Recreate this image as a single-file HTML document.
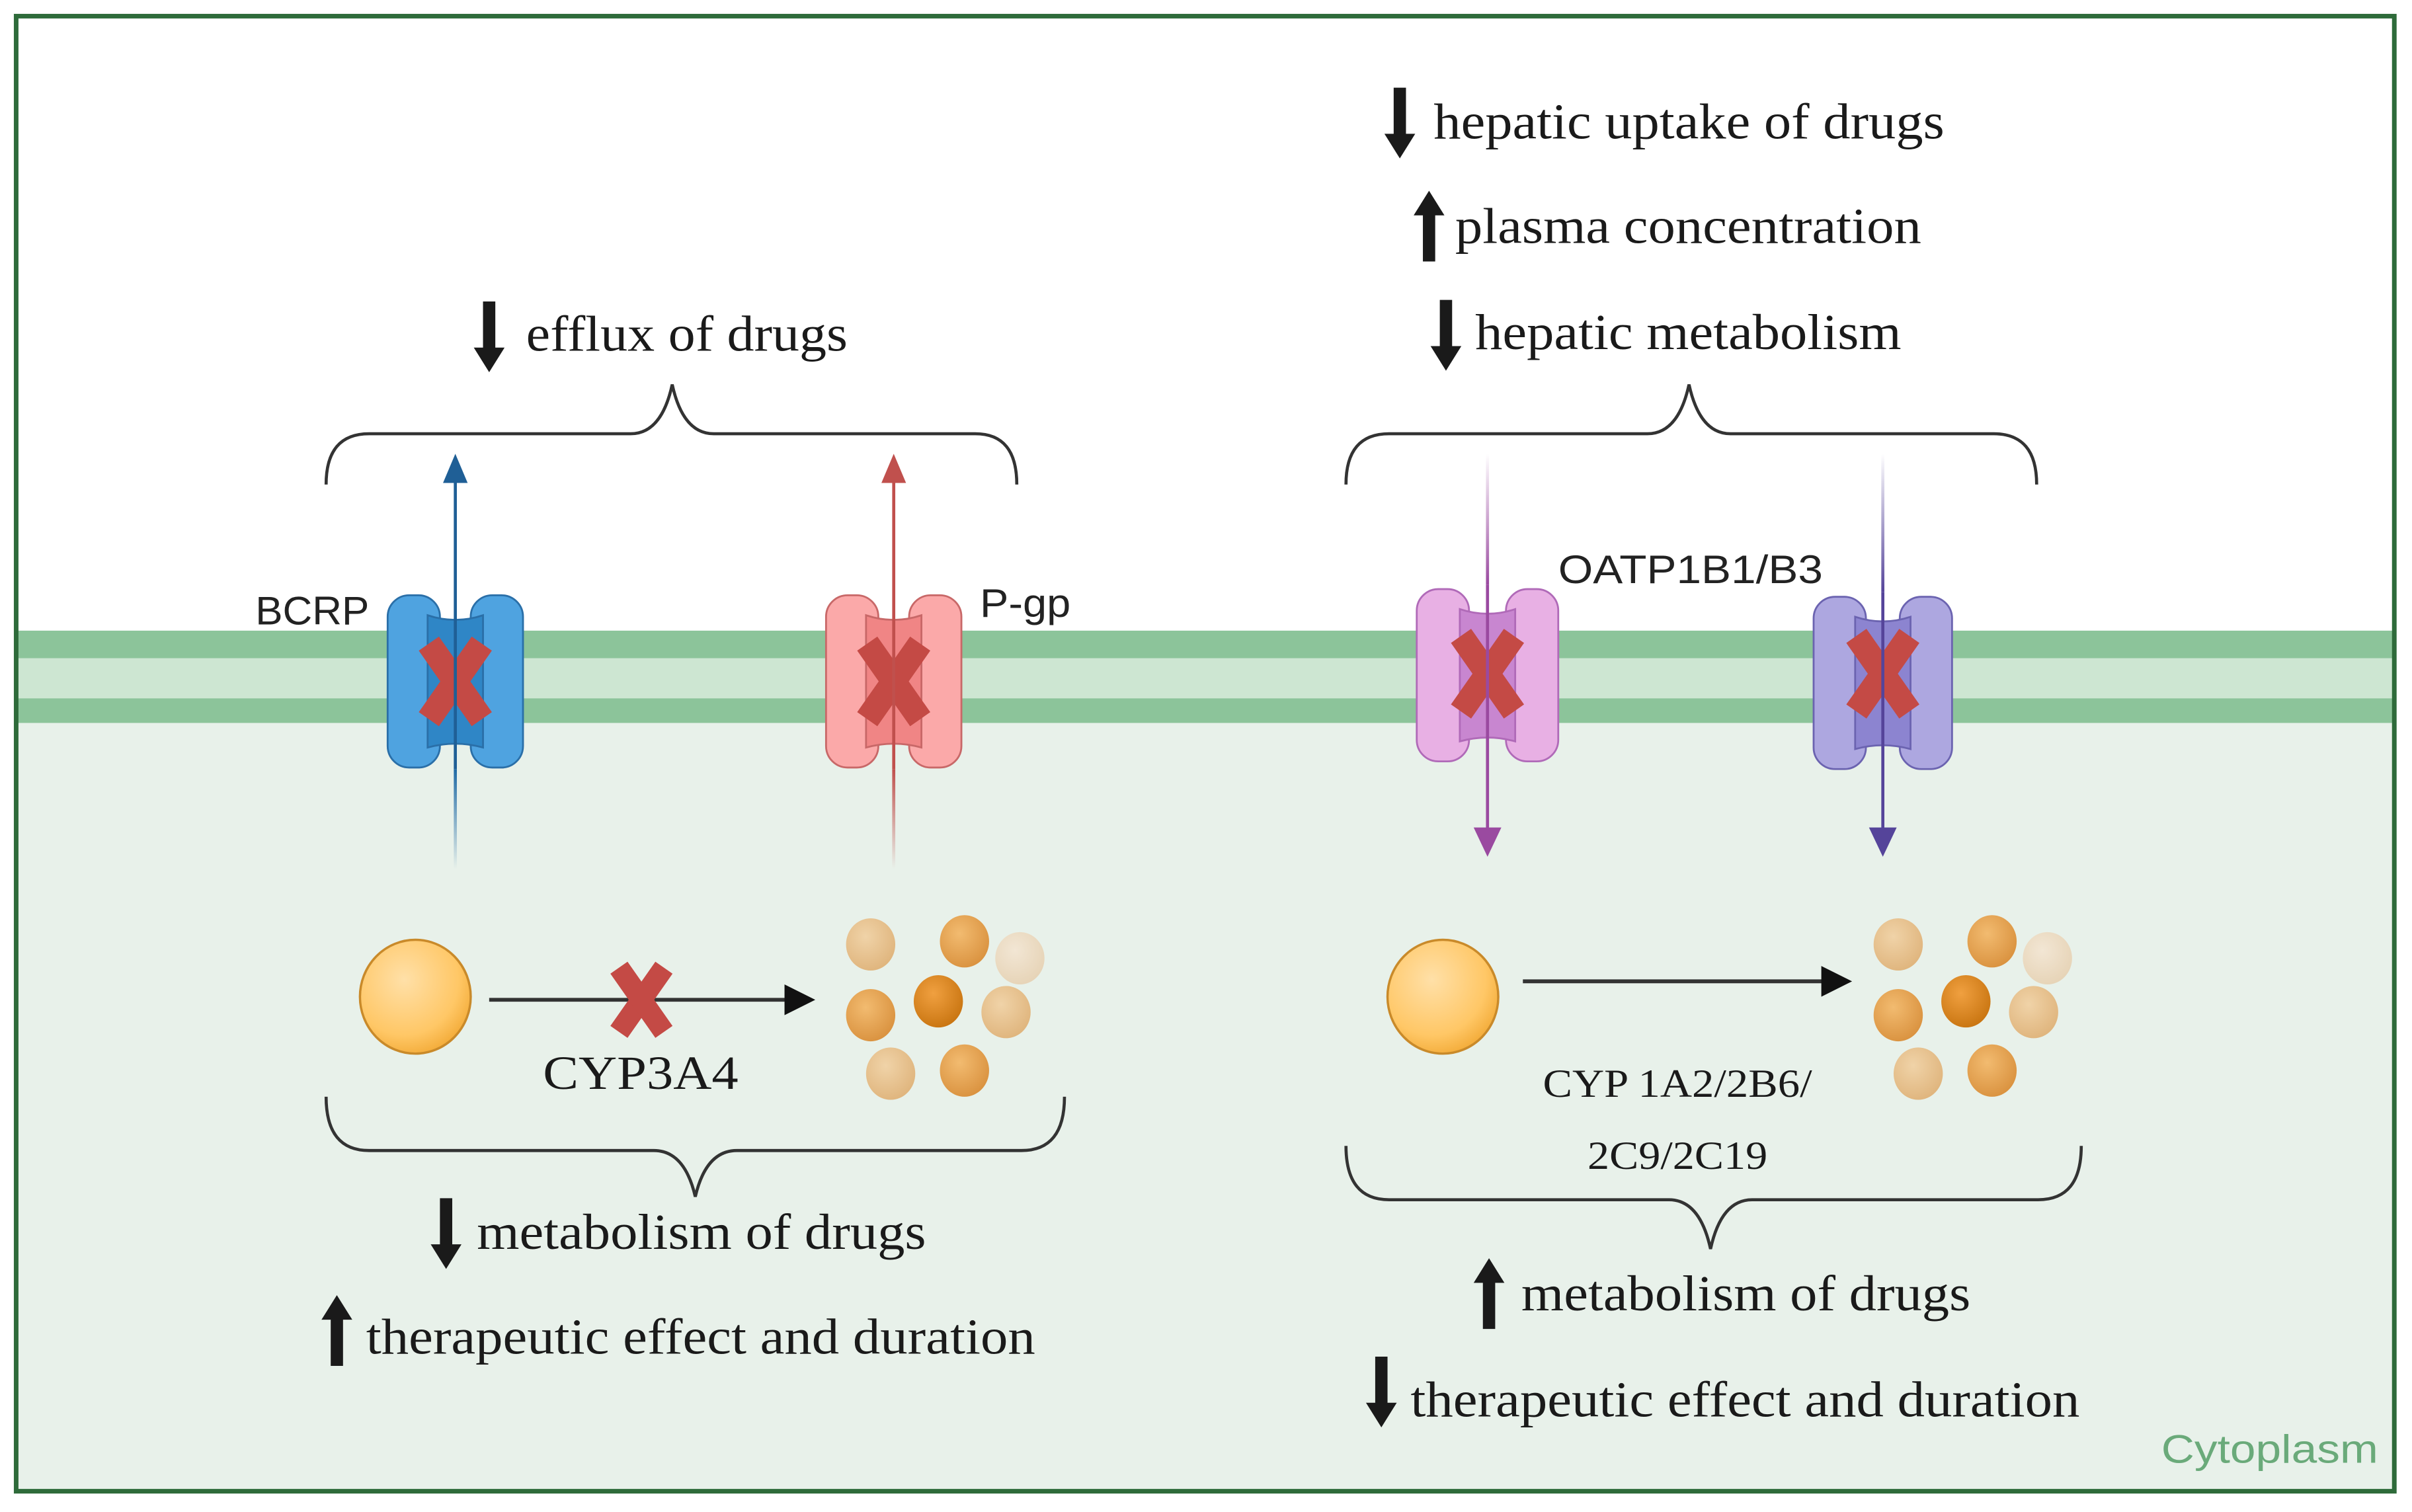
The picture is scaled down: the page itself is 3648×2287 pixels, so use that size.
<!DOCTYPE html>
<html><head><meta charset="utf-8"><style>
html,body{margin:0;padding:0;background:#fff}
svg{display:block}
.s{font-family:"Liberation Serif",serif;fill:#1a1a1a}
.a{font-family:"Liberation Sans",sans-serif;fill:#222}
</style></head><body>
<svg width="3648" height="2287" viewBox="0 0 1568 983" xmlns="http://www.w3.org/2000/svg">
<defs>
<radialGradient id="big" cx="0.4" cy="0.35" r="0.7"><stop offset="0" stop-color="#ffe0a8"/><stop offset="0.7" stop-color="#ffc766"/><stop offset="1" stop-color="#f2a935"/></radialGradient>
<radialGradient id="b1" cx="0.4" cy="0.35" r="0.7"><stop offset="0" stop-color="#f0d3a8"/><stop offset="1" stop-color="#dfb47c"/></radialGradient>
<radialGradient id="b2" cx="0.4" cy="0.35" r="0.7"><stop offset="0" stop-color="#f2bb70"/><stop offset="1" stop-color="#d9913e"/></radialGradient>
<radialGradient id="b3" cx="0.4" cy="0.35" r="0.7"><stop offset="0" stop-color="#f0a040"/><stop offset="1" stop-color="#c87410"/></radialGradient>
<radialGradient id="b4" cx="0.4" cy="0.35" r="0.7"><stop offset="0" stop-color="#f2e6d4"/><stop offset="1" stop-color="#e6d3b6"/></radialGradient>
<linearGradient id="fadeB" x1="0" y1="0" x2="0" y2="1"><stop offset="0" stop-color="#1f6aa5"/><stop offset="1" stop-color="#1f6aa5" stop-opacity="0"/></linearGradient>
<linearGradient id="fadeR" x1="0" y1="0" x2="0" y2="1"><stop offset="0" stop-color="#c0504d"/><stop offset="1" stop-color="#c0504d" stop-opacity="0"/></linearGradient>
<linearGradient id="fadeP" x1="0" y1="1" x2="0" y2="0"><stop offset="0" stop-color="#9a4aa0"/><stop offset="1" stop-color="#9a4aa0" stop-opacity="0"/></linearGradient>
<linearGradient id="fadeV" x1="0" y1="1" x2="0" y2="0"><stop offset="0" stop-color="#55449a"/><stop offset="1" stop-color="#55449a" stop-opacity="0"/></linearGradient>
<g id="redx"><rect x="-8" y="-30" width="16" height="60" fill="#c44a45" transform="rotate(35)"/><rect x="-8" y="-30" width="16" height="60" fill="#c44a45" transform="rotate(-35)"/></g>
<polygon id="dn" points="-4,0 4,0 4,30 10,30 0,46 -10,30 -4,30" fill="#1a1a1a"/>
<polygon id="up" points="-4,46 4,46 4,16 10,16 0,0 -10,16 -4,16" fill="#1a1a1a"/>
</defs>
<rect x="0" y="0" width="1568" height="983" fill="#fff"/>
<rect x="10" y="470" width="1547" height="500" fill="#e8f1ea"/>
<rect x="10" y="410" width="1547" height="18" fill="#8cc49a"/>
<rect x="10" y="428" width="1547" height="26" fill="#cde6d2"/>
<rect x="10" y="454" width="1547" height="16" fill="#8cc49a"/>
<rect x="10.5" y="10.5" width="1546" height="959" fill="none" stroke="#2e6b3a" stroke-width="3"/>

<g transform="translate(296,0)">
<rect x="-44" y="387" width="34" height="112" rx="14" fill="#4fa3e0" stroke="#2a6fa8" stroke-width="1.2"/>
<rect x="10" y="387" width="34" height="112" rx="14" fill="#4fa3e0" stroke="#2a6fa8" stroke-width="1.2"/>
<path d="M-18,400 Q0,406 18,400 L18,486 Q0,481 -18,486 Z" fill="#2f86c6" stroke="#2a6fa8" stroke-width="1.2"/>
<use href="#redx" x="0" y="443"/>
<line x1="0" y1="305" x2="0" y2="500" stroke="#1f5f96" stroke-width="2"/>
<rect x="-1" y="500" width="2" height="65" fill="url(#fadeB)"/>
<polygon points="-8,314 8,314 0,295" fill="#1f5f96"/>
</g>
<g transform="translate(581,0)">
<rect x="-44" y="387" width="34" height="112" rx="14" fill="#fba9a9" stroke="#c86868" stroke-width="1.2"/>
<rect x="10" y="387" width="34" height="112" rx="14" fill="#fba9a9" stroke="#c86868" stroke-width="1.2"/>
<path d="M-18,400 Q0,406 18,400 L18,486 Q0,481 -18,486 Z" fill="#f08585" stroke="#c86868" stroke-width="1.2"/>
<use href="#redx" x="0" y="443"/>
<line x1="0" y1="305" x2="0" y2="500" stroke="#c0504d" stroke-width="2"/>
<rect x="-1" y="500" width="2" height="65" fill="url(#fadeR)"/>
<polygon points="-8,314 8,314 0,295" fill="#c0504d"/>
</g>
<g transform="translate(967,0)">
<rect x="-46" y="383" width="34" height="112" rx="14" fill="#e8b0e4" stroke="#b06ab8" stroke-width="1.2"/>
<rect x="12" y="383" width="34" height="112" rx="14" fill="#e8b0e4" stroke="#b06ab8" stroke-width="1.2"/>
<path d="M-18,396 Q0,402 18,396 L18,482 Q0,477 -18,482 Z" fill="#c886d0" stroke="#b06ab8" stroke-width="1.2"/>
<use href="#redx" x="0" y="438"/>
<rect x="-1" y="295" width="2" height="85" fill="url(#fadeP)"/>
<line x1="0" y1="380" x2="0" y2="540" stroke="#9a4aa0" stroke-width="2"/>
<polygon points="-9,538 9,538 0,557" fill="#9a4aa0"/>
</g>
<g transform="translate(1224,0)">
<rect x="-45" y="388" width="34" height="112" rx="14" fill="#ada7e0" stroke="#6b63b0" stroke-width="1.2"/>
<rect x="11" y="388" width="34" height="112" rx="14" fill="#ada7e0" stroke="#6b63b0" stroke-width="1.2"/>
<path d="M-18,401 Q0,407 18,401 L18,487 Q0,482 -18,487 Z" fill="#8c84d0" stroke="#6b63b0" stroke-width="1.2"/>
<use href="#redx" x="0" y="438"/>
<rect x="-1" y="295" width="2" height="90" fill="url(#fadeV)"/>
<line x1="0" y1="385" x2="0" y2="540" stroke="#55449a" stroke-width="2"/>
<polygon points="-9,538 9,538 0,557" fill="#55449a"/>
</g>

<g fill="none" stroke="#333" stroke-width="2">
<path d="M212,315 Q212,282 240,282 L410,282 Q430,282 437,250 Q444,282 464,282 L634,282 Q661,282 661,315"/>
<path d="M875,315 Q875,282 903,282 L1071,282 Q1091,282 1098,250 Q1105,282 1125,282 L1296,282 Q1324,282 1324,315"/>
<path d="M212,713 Q212,748 240,748 L425,748 Q445,748 452,778 Q459,748 479,748 L664,748 Q692,748 692,713"/>
<path d="M875,745 Q875,780 903,780 L1085,780 Q1105,780 1112,812 Q1119,780 1139,780 L1325,780 Q1353,780 1353,745"/>
</g>

<use href="#dn" x="318" y="196"/>
<text class="s" x="342" y="228" font-size="33" textLength="209" lengthAdjust="spacingAndGlyphs">efflux of drugs</text>
<use href="#dn" x="910" y="57"/>
<text class="s" x="932" y="90" font-size="33" textLength="332" lengthAdjust="spacingAndGlyphs">hepatic uptake of drugs</text>
<use href="#up" x="929" y="124"/>
<text class="s" x="946" y="158" font-size="33" textLength="303" lengthAdjust="spacingAndGlyphs">plasma concentration</text>
<use href="#dn" x="940" y="195"/>
<text class="s" x="959" y="227" font-size="33" textLength="277" lengthAdjust="spacingAndGlyphs">hepatic metabolism</text>
<use href="#dn" x="290" y="779"/>
<text class="s" x="310" y="812" font-size="33" textLength="292" lengthAdjust="spacingAndGlyphs">metabolism of drugs</text>
<use href="#up" x="219" y="842"/>
<text class="s" x="238" y="880" font-size="33" textLength="435" lengthAdjust="spacingAndGlyphs">therapeutic effect and duration</text>
<use href="#up" x="968" y="818"/>
<text class="s" x="989" y="852" font-size="33" textLength="292" lengthAdjust="spacingAndGlyphs">metabolism of drugs</text>
<use href="#dn" x="898" y="882"/>
<text class="s" x="917" y="921" font-size="33" textLength="435" lengthAdjust="spacingAndGlyphs">therapeutic effect and duration</text>
<text class="s" x="353" y="708" font-size="31" textLength="127" lengthAdjust="spacingAndGlyphs">CYP3A4</text>
<text class="s" x="1003" y="713" font-size="26" textLength="175" lengthAdjust="spacingAndGlyphs">CYP 1A2/2B6/</text>
<text class="s" x="1032" y="760" font-size="26" textLength="117" lengthAdjust="spacingAndGlyphs">2C9/2C19</text>
<text class="a" x="166" y="406" font-size="26" textLength="74" lengthAdjust="spacingAndGlyphs">BCRP</text>
<text class="a" x="637" y="401" font-size="26" textLength="59" lengthAdjust="spacingAndGlyphs">P-gp</text>
<text class="a" x="1013" y="379" font-size="26" textLength="172" lengthAdjust="spacingAndGlyphs">OATP1B1/B3</text>
<text x="1405" y="951" font-size="26" font-family="Liberation Sans,sans-serif" fill="#6aaa7a" textLength="141" lengthAdjust="spacingAndGlyphs">Cytoplasm</text>

<ellipse cx="270" cy="648" rx="36" ry="37" fill="url(#big)" stroke="#c98a2a" stroke-width="1.5"/>
<line x1="318" y1="650" x2="512" y2="650" stroke="#333" stroke-width="2.5"/>
<polygon points="510,640 530,650 510,660" fill="#111"/>
<use href="#redx" x="417" y="650" transform="translate(417,650) scale(0.85) translate(-417,-650)"/>
<ellipse cx="938" cy="648" rx="36" ry="37" fill="url(#big)" stroke="#c98a2a" stroke-width="1.5"/>
<line x1="990" y1="638" x2="1186" y2="638" stroke="#333" stroke-width="2.5"/>
<polygon points="1184,628 1204,638 1184,648" fill="#111"/>
<g id="cl">
<ellipse cx="566" cy="614" rx="16" ry="17" fill="url(#b1)"/>
<ellipse cx="627" cy="612" rx="16" ry="17" fill="url(#b2)"/>
<ellipse cx="663" cy="623" rx="16" ry="17" fill="url(#b4)"/>
<ellipse cx="566" cy="660" rx="16" ry="17" fill="url(#b2)"/>
<ellipse cx="610" cy="651" rx="16" ry="17" fill="url(#b3)"/>
<ellipse cx="654" cy="658" rx="16" ry="17" fill="url(#b1)"/>
<ellipse cx="579" cy="698" rx="16" ry="17" fill="url(#b1)"/>
<ellipse cx="627" cy="696" rx="16" ry="17" fill="url(#b2)"/>
</g>
<use href="#cl" x="668" y="0"/>
</svg>
</body></html>
